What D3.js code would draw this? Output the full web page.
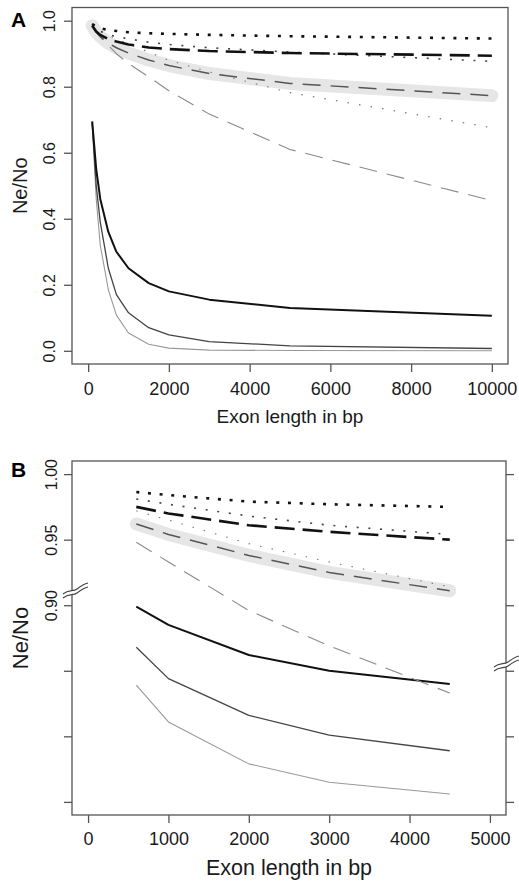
<!DOCTYPE html>
<html><head><meta charset="utf-8">
<script src="https://cdn.jsdelivr.net/npm/d3@7/dist/d3.min.js"></script>
<style>
body{margin:0;background:#fff;}
svg{display:block;font-family:"Liberation Sans",Arial,Helvetica,sans-serif;}
</style></head>
<body>
<svg id="chart" width="519" height="882"></svg>
<script>
// ---------- DATA ----------
const xA = [100, 200, 300, 500, 700, 1000, 1500, 2000, 3000, 5000, 10000];
const aDotThick   = [0.990, 0.982, 0.977, 0.972, 0.969, 0.965, 0.962, 0.960, 0.957, 0.953, 0.946];
const aDashThick  = [0.985, 0.967, 0.957, 0.944, 0.937, 0.928, 0.919, 0.914, 0.908, 0.902, 0.894];
const aDotMid     = [0.990, 0.976, 0.968, 0.958, 0.952, 0.945, 0.935, 0.928, 0.918, 0.905, 0.877];
const aDashMid    = [0.985, 0.965, 0.952, 0.932, 0.918, 0.902, 0.881, 0.864, 0.840, 0.810, 0.773];
const aDotLight   = [0.990, 0.978, 0.968, 0.955, 0.945, 0.930, 0.905, 0.880, 0.845, 0.782, 0.676];
const aDashLight  = [0.985, 0.965, 0.950, 0.925, 0.900, 0.870, 0.830, 0.788, 0.717, 0.610, 0.455];
const aSolidThick = [0.695, 0.550, 0.460, 0.360, 0.300, 0.250, 0.205, 0.180, 0.155, 0.130, 0.106];
const aSolidMid   = [0.690, 0.500, 0.390, 0.250, 0.170, 0.115, 0.070, 0.048, 0.028, 0.015, 0.007];
const aSolidLight = [0.690, 0.460, 0.320, 0.185, 0.108, 0.054, 0.020, 0.008, 0.002, 0.001, 0.000];

const xB = [600, 1000, 2000, 3000, 4500];
const bDotThick   = [0.9863, 0.984, 0.979, 0.977, 0.975];
const bDotMid     = [0.981, 0.977, 0.968, 0.961, 0.954];
const bDashThick  = [0.975, 0.970, 0.961, 0.956, 0.950];
const bDotLight   = [0.972, 0.965, 0.947, 0.933, 0.914];
const bDashMid    = [0.962, 0.954, 0.938, 0.925, 0.911];
const bDashLight  = [0.948, 0.933, 0.896, 0.869, 0.833];
const bSolidThick = [0.899, 0.885, 0.862, 0.850, 0.840];
const bSolidMid   = [0.868, 0.844, 0.816, 0.801, 0.789];
const bSolidLight = [0.839, 0.811, 0.779, 0.765, 0.756];

const xTicksA = [0, 2000, 4000, 6000, 8000, 10000];
const yTicksA = [0.0, 0.2, 0.4, 0.6, 0.8, 1.0];
const yLabelsA = ["0.0", "0.2", "0.4", "0.6", "0.8", "1.0"];
const xTicksB = [0, 1000, 2000, 3000, 4000, 5000];
const yTicksB = [1.00, 0.95, 0.90, 0.85, 0.80, 0.75];
const yLabelsB = ["1.00", "0.95", "0.90", "", "", ""];
const xTitle = "Exon length in bp";
const yTitle = "Ne/No";
const panelLabels = ["A", "B"];

// ---------- STYLES ----------
const styles = {
  dotThick:   {color:"#111", width:2.6, dash:"3,8.7"},
  dashThick:  {color:"#111", width:2.6, dash:"20,8"},
  dotMid:     {color:"#444", width:1.6, dash:"2,9.7"},
  dashMid:    {color:"#555", width:1.5, dash:"18,10", halo:true},
  dotLight:   {color:"#777", width:1.1, dash:"1.5,10.2"},
  dashLight:  {color:"#8a8a8a", width:1.1, dash:"18,10"},
  solidThick: {color:"#111", width:2.0, dash:null},
  solidMid:   {color:"#444", width:1.3, dash:null},
  solidLight: {color:"#999", width:1.1, dash:null}
};

const seriesA = [
  ["solidLight", aSolidLight], ["solidMid", aSolidMid], ["solidThick", aSolidThick],
  ["dashLight", aDashLight], ["dotLight", aDotLight], ["dashMid", aDashMid],
  ["dotMid", aDotMid], ["dashThick", aDashThick], ["dotThick", aDotThick]
];
const seriesB = [
  ["solidLight", bSolidLight], ["solidMid", bSolidMid], ["solidThick", bSolidThick],
  ["dashLight", bDashLight], ["dotLight", bDotLight], ["dashMid", bDashMid],
  ["dotMid", bDotMid], ["dashThick", bDashThick], ["dotThick", bDotThick]
];

const svg = d3.select("#chart");
const axisColor = "#555";
const textColor = "#1a1a1a";

function panel(cfg){
  const g = svg.append("g");
  const x = d3.scaleLinear().domain(cfg.xDomain).range([cfg.left, cfg.right]);
  const y = d3.scaleLinear().domain(cfg.yDomain).range([cfg.bottom, cfg.top]);

  const line = d3.line().x(d => x(d[0])).y(d => y(d[1]));
  const pts = vals => cfg.xs.map((xv, i) => [xv, vals[i]]);

  cfg.series.forEach(([k, vals]) => {
    if (styles[k].halo) {
      g.append("path").attr("d", line(pts(vals)))
        .attr("fill", "none").attr("stroke", "#e6e6e6")
        .attr("stroke-width", 13).attr("stroke-linecap", "round").attr("stroke-linejoin", "round");
    }
  });
  cfg.series.forEach(([k, vals]) => {
    const s = styles[k];
    g.append("path").attr("d", line(pts(vals)))
      .attr("fill", "none").attr("stroke", s.color)
      .attr("stroke-width", s.width)
      .attr("stroke-dasharray", s.dash)
      .attr("stroke-linejoin", "round");
  });

  g.append("rect").attr("x", cfg.left).attr("y", cfg.top)
    .attr("width", cfg.right - cfg.left).attr("height", cfg.bottom - cfg.top)
    .attr("fill", "none").attr("stroke", axisColor).attr("stroke-width", 1.3);

  const xa = g.append("g").attr("transform", `translate(0,${cfg.bottom})`)
    .call(d3.axisBottom(x).tickValues(cfg.xTicks).tickSize(8).tickSizeOuter(0).tickFormat(d3.format("d")));
  xa.select(".domain").remove();
  xa.selectAll(".tick line").attr("stroke", axisColor).attr("stroke-width", 1.3);
  xa.selectAll(".tick text").attr("y", cfg.xLabY).attr("dy", null)
    .attr("font-size", 18).attr("fill", textColor).attr("font-family", null);

  const ya = g.append("g").attr("transform", `translate(${cfg.left},0)`)
    .call(d3.axisLeft(y).tickValues(cfg.yTicks).tickSize(8).tickSizeOuter(0)
      .tickFormat((d, i) => cfg.yLabels[i]));
  ya.select(".domain").remove();
  ya.selectAll(".tick line").attr("stroke", axisColor).attr("stroke-width", 1.3);
  ya.selectAll(".tick text").attr("x", null).attr("dy", null)
    .attr("transform", `translate(${cfg.yLabX},0) rotate(-90)`)
    .attr("text-anchor", "middle").attr("font-size", 16).attr("fill", textColor).attr("font-family", null);

  if (cfg.rightTicks) {
    const ra = g.append("g").attr("transform", `translate(${cfg.right},0)`)
      .call(d3.axisRight(y).tickValues(cfg.yTicks).tickSize(8).tickSizeOuter(0).tickFormat(""));
    ra.select(".domain").remove();
    ra.selectAll(".tick line").attr("stroke", axisColor).attr("stroke-width", 1.3);
  }

  g.append("text").attr("x", (cfg.left + cfg.right) / 2).attr("y", cfg.xTitleY)
    .attr("text-anchor", "middle").attr("font-size", cfg.xTitleSize).attr("fill", textColor).text(xTitle);
  g.append("text").attr("transform", `translate(${cfg.yTitleX},${(cfg.top + cfg.bottom) / 2}) rotate(-90)`)
    .attr("text-anchor", "middle").attr("font-size", cfg.yTitleSize).attr("fill", textColor).text(yTitle);
  g.append("text").attr("x", 11).attr("y", cfg.labelY)
    .attr("font-size", 21).attr("font-weight", "bold").attr("fill", "#000").text(cfg.label);

  return {g, x, y};
}

panel({
  xs: xA, series: seriesA, xDomain: [-400, 10400], yDomain: [-0.04, 1.04],
  left: 72, right: 508, top: 7.5, bottom: 364,
  xTicks: xTicksA, yTicks: yTicksA, yLabels: yLabelsA,
  xLabY: 31, yLabX: -17, xTitleY: 423, xTitleSize: 19, yTitleX: 27, yTitleSize: 20,
  label: panelLabels[0], labelY: 27, rightTicks: false
});

panel({
  xs: xB, series: seriesB, xDomain: [-200, 5200], yDomain: [0.74, 1.01],
  left: 72, right: 506, top: 461, bottom: 815,
  xTicks: xTicksB, yTicks: yTicksB, yLabels: yLabelsB,
  xLabY: 30, yLabX: -15, xTitleY: 875, xTitleSize: 21.5, yTitleX: 28, yTitleSize: 22,
  label: panelLabels[1], labelY: 477, rightTicks: true
});

function breakMark(cx, cy){
  const b = svg.append("g").attr("transform", `translate(${cx},${cy})`);
  b.append("path").attr("d", "M-12,5 C-6,0 -2,3 2,0 C6,-3 9,-5 13,-6 L13,-2 C9,-1 6,1 2,4 C-2,7 -6,4 -12,9 Z")
    .attr("fill", "#fff").attr("stroke", "none");
  b.append("path").attr("d", "M-12,5 C-6,0 -2,3 2,0 C6,-3 9,-5 13,-6")
    .attr("fill", "none").attr("stroke", "#444").attr("stroke-width", 1.1);
  b.append("path").attr("d", "M-12,9 C-6,4 -2,7 2,4 C6,1 9,-1 13,-2")
    .attr("fill", "none").attr("stroke", "#444").attr("stroke-width", 1.1);
}
breakMark(75, 589);
breakMark(506, 662);
</script>
</body></html>
